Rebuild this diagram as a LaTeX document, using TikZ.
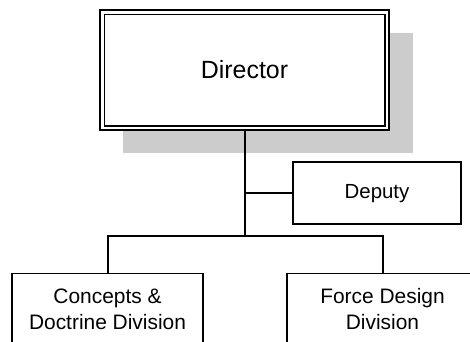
\documentclass[tikz,border=0pt]{standalone}
\usepackage{fontspec}
\setmainfont{Liberation Sans}
\begin{document}
\begin{tikzpicture}[x=1bp,y=-1bp,
  box/.style={draw=black, line width=1.8bp, fill=white, inner sep=0pt},
  conn/.style={draw=black, line width=2bp},
  lbl/.style={inner sep=0pt, align=center, font=\fontsize{21}{26.5}\selectfont}]
\useasboundingbox (0,0) rectangle (470,341);
\clip (0,0) rectangle (470,341);
% shadow of director box
\fill[black!20] (123,33) rectangle (413,153);
% director
\node[box, line width=1.2bp, minimum width=289bp, minimum height=120bp,
      font=\fontsize{25}{30}\selectfont] (dir) at (244.5,70) {Director};
\draw[line width=1.8bp] ([shift={(5,5)}]dir.north west) rectangle ([shift={(-5,-5)}]dir.south east);
% deputy
\node[box, minimum width=168bp, minimum height=62bp,
      font=\fontsize{20.5}{24}\selectfont] (dep) at (377,193.3) {Deputy};
% divisions
\node[box, minimum width=191bp, minimum height=110bp, anchor=north] (cdd) at (107.5,272.5) {};
\node[lbl] (cddt) at (107.5,309) {Concepts \&\\Doctrine Division};
\node[box, minimum width=191bp, minimum height=110bp, anchor=north] (fdd) at (382.5,272.5) {};
\node[lbl] (fddt) at (382.5,309) {Force Design\\Division};
% connectors
\coordinate (j) at (dir.south |- 0,236);
\draw[conn] (dir.south) -- (j);
\draw[conn] (dir.south |- dep.west) -- (dep.west);
\draw[conn] (cdd.north) -- (cdd.north |- j) -- (fdd.north |- j) -- (fdd.north);
\end{tikzpicture}
\end{document}
